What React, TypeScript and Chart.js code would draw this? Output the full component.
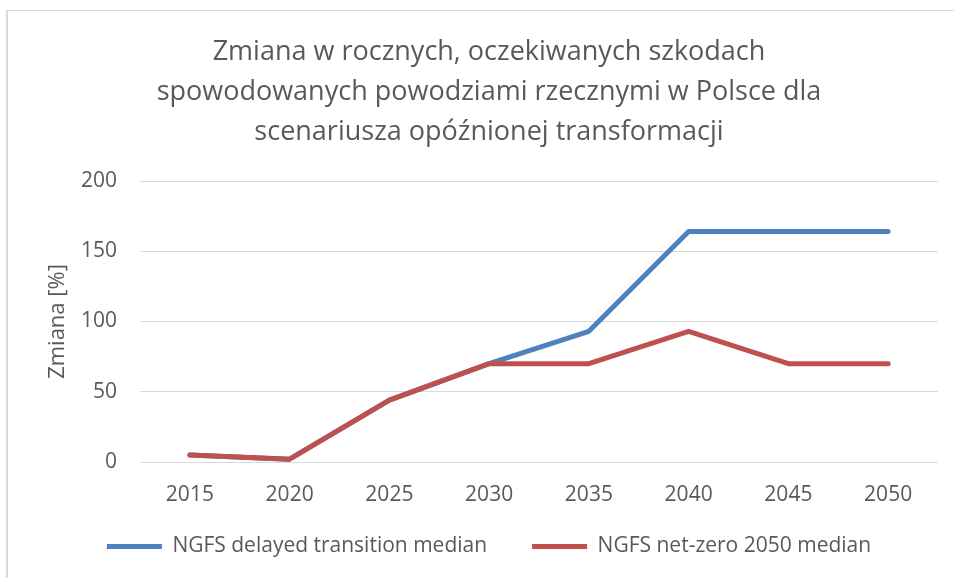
import React, { useEffect, useRef } from "react";
import { Chart, registerables } from "chart.js";

Chart.register(...registerables);

const categories = ["2015", "2020", "2025", "2030", "2035", "2040", "2045", "2050"];
const delayedTransition = [5, 2, 44, 70, 93, 164, 164, 164];
const netZero2050 = [5, 2, 44, 70, 70, 93, 70, 70];
const titleLines = [
  "Zmiana w rocznych, oczekiwanych szkodach",
  "spowodowanych powodziami rzecznymi w Polsce dla",
  "scenariusza opóźnionej transformacji",
];
const yAxisTitle = "Zmiana [%]";
const seriesNames = ["NGFS delayed transition median", "NGFS net-zero 2050 median"];

const FONT = "'Open Sans', Lato, sans-serif";
const TEXT = "#595959";

export default function App() {
  const ref = useRef<HTMLCanvasElement | null>(null);

  useEffect(() => {
    if (!ref.current) return;
    const chart = new Chart(ref.current, {
      type: "line",
      data: {
        labels: categories,
        datasets: [
          {
            label: seriesNames[0],
            data: delayedTransition,
            borderColor: "#4F81BD",
            backgroundColor: "#4F81BD",
            borderWidth: 5,
            borderCapStyle: "round",
            borderJoinStyle: "round",
            pointRadius: 0,
            tension: 0,
            order: 1,
          },
          {
            label: seriesNames[1],
            data: netZero2050,
            borderColor: "#C0504D",
            backgroundColor: "#C0504D",
            borderWidth: 5,
            borderCapStyle: "round",
            borderJoinStyle: "round",
            pointRadius: 0,
            tension: 0,
            order: 0,
          },
        ],
      },
      options: {
        animation: false,
        responsive: false,
        maintainAspectRatio: false,
        layout: { padding: { left: 40, right: 16, top: 0, bottom: 11 } },
        plugins: {
          title: {
            display: true,
            text: titleLines,
            color: TEXT,
            font: { family: FONT, size: 27, weight: "normal", lineHeight: 40 / 27 },
            padding: { top: 32, bottom: 29 },
          },
          legend: {
            position: "bottom",
            labels: {
              color: TEXT,
              font: { family: FONT, size: 21 },
              usePointStyle: true,
              pointStyle: "line",
              pointStyleWidth: 55,
              boxHeight: 21,
              padding: 45,
              sort: (a: any, b: any) => a.datasetIndex - b.datasetIndex,
            },
          },
          tooltip: { enabled: false },
        },
        scales: {
          x: {
            offset: true,
            grid: { display: false, drawTicks: false },
            border: { display: false },
            ticks: { color: TEXT, font: { family: FONT, size: 21 }, padding: 20, maxRotation: 0 },
            afterFit: (s: any) => {
              s.height = 29;
              s._computeLabelArea = () => undefined;
            },
          },
          y: {
            min: 0,
            max: 200,
            grid: { color: "#d9d9d9", lineWidth: 1, drawTicks: false },
            border: { display: false },
            ticks: { stepSize: 50, color: TEXT, font: { family: FONT, size: 21 }, padding: 23 },
            title: {
              display: true,
              text: yAxisTitle,
              color: TEXT,
              font: { family: FONT, size: 22 },
              padding: { top: 5, bottom: 0 },
            },
            afterFit: (s: any) => {
              s.width = 100;
            },
          },
        },
      },
    });
    return () => chart.destroy();
  }, []);

  return (
    <div
      style={{
        position: "absolute",
        left: 0,
        top: 0,
        width: 954,
        height: 578,
        overflow: "hidden",
        background: "#fff",
      }}
    >
      <div
        style={{
          position: "absolute",
          left: 6,
          top: 10,
          width: 1000,
          height: 600,
          borderLeft: "2px solid #d9d9d9",
          borderTop: "1px solid #d9d9d9",
        }}
      />
      <canvas ref={ref} width={954} height={578} style={{ position: "absolute", left: 0, top: 0 }} />
    </div>
  );
}
